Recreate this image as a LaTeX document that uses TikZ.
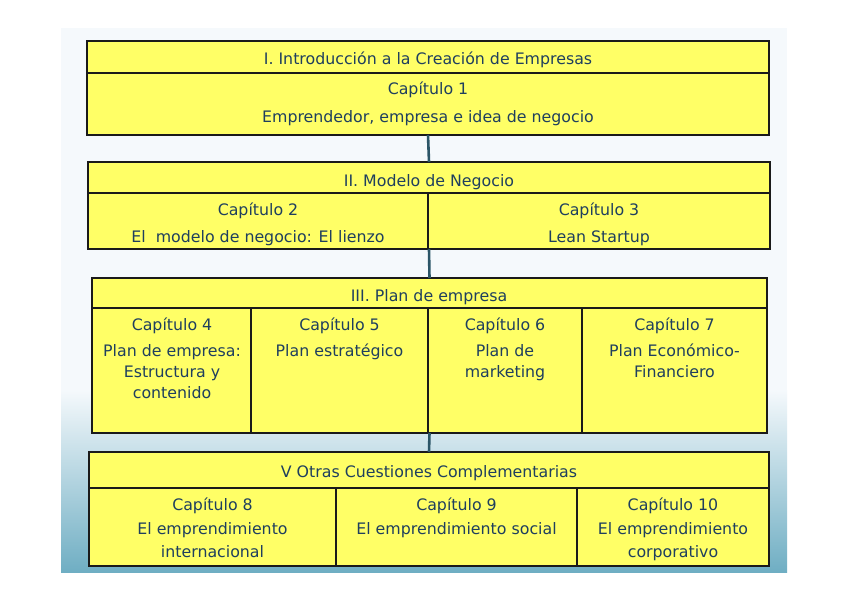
\documentclass[tikz,border=0pt]{standalone}
\usepackage{fontspec}
\setmainfont{DejaVu Sans}
\definecolor{boxfill}{HTML}{FFFF66}
\definecolor{boxline}{HTML}{1A1A1A}
\definecolor{txtc}{HTML}{1F3F5E}
\definecolor{connc}{HTML}{2B5567}
\definecolor{bgtop}{HTML}{F5F9FC}
\definecolor{bgbot}{HTML}{6FAEC3}
\begin{document}
\begin{tikzpicture}[x=1pt,y=-1pt,
 box/.style={draw=boxline,line width=2.4pt,fill=boxfill,anchor=north west,inner sep=0pt,outer sep=0pt},
 div/.style={draw=boxline,line width=1.3pt},
 conn/.style={draw=connc,line width=2.6pt},
 txt/.style={text=txtc,font=\fontsize{15.8}{19}\selectfont,anchor=base,inner sep=0pt}]
\useasboundingbox (0,0) rectangle (848,599);
\fill[white] (0,0) rectangle (848,599);
\fill[bgtop] (61,28) rectangle (787,572);
\shade[top color=bgtop,bottom color=bgbot] (61,390) rectangle (787,572);
% boxes
\node[box,minimum width=682pt,minimum height=94pt] (b1) at (87,41) {};
\node[box,minimum width=682pt,minimum height=87pt] (b2) at (88,162) {};
\node[box,minimum width=675pt,minimum height=155pt] (b3) at (92,278) {};
\node[box,minimum width=680pt,minimum height=114pt] (b4) at (89,452) {};
% dividers
\draw[div] (87,73) -- (769,73);
\draw[div] (88,193) -- (770,193);
\draw[div] (428,193) -- (428,249);
\draw[div] (92,308) -- (767,308);
\draw[div] (251,308) -- (251,433);
\draw[div] (428,308) -- (428,433);
\draw[div] (582,308) -- (582,433);
\draw[div] (89,488) -- (769,488);
\draw[div] (336,488) -- (336,566);
\draw[div] (577,488) -- (577,566);
% connectors
\draw[conn] (b1.south) -- (b2.north);
\draw[conn] (b2.south) -- (b3.north);
\draw[conn] (b3.south) -- (b4.north);
% box 1
\node[txt] (h1) at (428,65) {I. Introducción a la Creación de Empresas};
\node[txt] (c1) at (428,95) {Capítulo 1};
\node[txt] (d1) at (428,122) {Emprendedor, empresa e idea de negocio};
% box 2
\node[txt] (h2) at (429,186) {II. Modelo de Negocio};
\node[txt] (c2) at (258,215) {Capítulo 2};
\node[txt] (d2) at (258,242) {El\ \ modelo de negocio: El lienzo};
\node[txt] (c3) at (599,215) {Capítulo 3};
\node[txt] (d3) at (599,242) {Lean Startup};
% box 3
\node[txt] (h3) at (429,301) {III. Plan de empresa};
\node[txt] (c4) at (172,330) {Capítulo 4};
\node[txt] (d4a) at (172,356) {Plan de empresa:};
\node[txt] (d4b) at (172,377) {Estructura y};
\node[txt] (d4c) at (172,398) {contenido};
\node[txt] (c5) at (339.5,330) {Capítulo 5};
\node[txt] (d5) at (339.5,356) {Plan estratégico};
\node[txt] (c6) at (505,330) {Capítulo 6};
\node[txt] (d6a) at (505,356) {Plan de};
\node[txt] (d6b) at (505,377) {marketing};
\node[txt] (c7) at (674.5,330) {Capítulo 7};
\node[txt] (d7a) at (674.5,356) {Plan Económico-};
\node[txt] (d7b) at (674.5,377) {Financiero};
% box 4
\node[txt] (h4) at (429,477) {V Otras Cuestiones Complementarias};
\node[txt] (c8) at (212.5,510) {Capítulo 8};
\node[txt] (d8a) at (212.5,534) {El emprendimiento};
\node[txt] (d8b) at (212.5,557) {internacional};
\node[txt] (c9) at (456.5,510) {Capítulo 9};
\node[txt] (d9) at (456.5,534) {El emprendimiento social};
\node[txt] (c10) at (673,510) {Capítulo 10};
\node[txt] (d10a) at (673,534) {El emprendimiento};
\node[txt] (d10b) at (673,557) {corporativo};
\end{tikzpicture}
\end{document}
